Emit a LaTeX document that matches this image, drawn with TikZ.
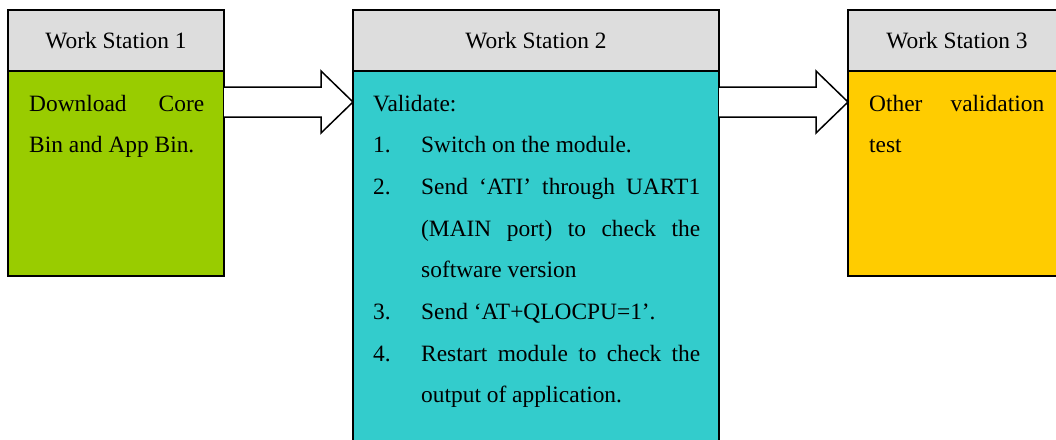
\documentclass[tikz,border=0pt]{standalone}
\usepackage{fontspec}
\setmainfont{Liberation Serif}
\usetikzlibrary{calc}
\definecolor{hdrgray}{HTML}{DDDDDD}
\definecolor{wsgreen}{HTML}{99CC00}
\definecolor{wscyan}{HTML}{33CCCC}
\definecolor{wsyellow}{HTML}{FFCC00}
\newcommand{\wsitem}[2]{\hangindent=48pt\hangafter=1\noindent\makebox[48pt][l]{#1}#2\par}
\begin{document}
\begin{tikzpicture}[x=1pt,y=1pt,
  box/.style={draw=black,line width=1.5pt,rectangle,inner sep=0pt,outer sep=0pt,anchor=north west},
  hdr/.style={box,fill=hdrgray,minimum height=61pt,font=\fontsize{23.4}{28}\selectfont},
  bodybox/.style={box,anchor=north west},
  txt/.style={inner sep=0pt,anchor=base west,font=\fontsize{23.4}{41.7}\selectfont},
  arr/.style={draw=black,line width=1.5pt,fill=white,line join=miter}]
\useasboundingbox (0,0) rectangle (1056,-439);
\clip (0,0) rectangle (1056,-439);
% Work station 1
\node[hdr,minimum width=216pt] (h1) at (8,-10) {\raisebox{-1pt}{Work Station 1}};
\node[bodybox,fill=wsgreen,minimum width=216pt,minimum height=205pt] (b1) at (h1.south west) {};
\node[txt] (t1) at ($(b1.north west)+(21,-40)$) {\parbox[t]{175pt}{Download Core\linebreak Bin and App Bin.}};
% Work station 2
\node[hdr,minimum width=366pt] (h2) at (353,-10) {\raisebox{-1pt}{Work Station 2}};
\node[bodybox,fill=wscyan,minimum width=366pt,minimum height=390pt] (b2) at (h2.south west) {};
\node[txt] (t2) at ($(b2.north west)+(20,-40)$) {\parbox[t]{327pt}{%
  \noindent Validate:\par
  \wsitem{1.}{Switch on the module.}
  \wsitem{2.}{Send ‘ATI’ through UART1\linebreak (MAIN port) to check the\linebreak software version}
  \wsitem{3.}{Send ‘AT+QLOCPU=1’.}
  \wsitem{4.}{Restart module to check the\linebreak output of application.}}};
% Work station 3
\node[hdr,minimum width=218pt] (h3) at (848,-10) {\raisebox{-1pt}{Work Station 3}};
\node[bodybox,fill=wsyellow,minimum width=218pt,minimum height=205pt] (b3) at (h3.south west) {};
\node[txt] (t3) at ($(b3.north west)+(21,-40)$) {\parbox[t]{175pt}{Other validation\linebreak test}};
% Arrows
\draw[arr] ($(b1.north east)+(0,-16)$) -- ($(b2.north west)+(-32,-16)$) -- ($(b2.north west)+(-32,0)$)
  -- ($(b2.north west)+(0,-31)$) -- ($(b2.north west)+(-32,-62)$) -- ($(b2.north west)+(-32,-46)$)
  -- ($(b1.north east)+(0,-46)$);
\draw[arr] ($(b2.north east)+(0,-16)$) -- ($(b3.north west)+(-32,-16)$) -- ($(b3.north west)+(-32,0)$)
  -- ($(b3.north west)+(0,-31)$) -- ($(b3.north west)+(-32,-62)$) -- ($(b3.north west)+(-32,-46)$)
  -- ($(b2.north east)+(0,-46)$);
\end{tikzpicture}
\end{document}
